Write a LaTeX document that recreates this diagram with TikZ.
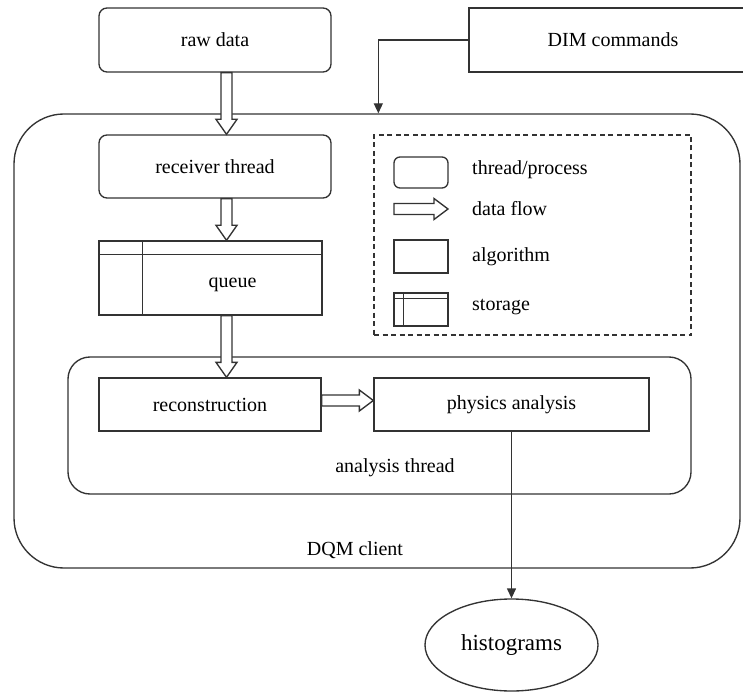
\documentclass[tikz,border=0pt]{standalone}
\usepackage{fontspec}
\setmainfont{Liberation Serif}
\usetikzlibrary{calc,shapes.geometric,arrows.meta}

% hollow (outlined) data-flow arrows
\newcommand\flowdown[2]{%
  \draw[flowarrow] let \p1=#1, \p2=#2 in
    (\x1-5.5pt,\y1) -- (\x1-5.5pt,\y2+15pt) -- (\x1-10.5pt,\y2+15pt) -- (\x1,\y2)
    -- (\x1+10.5pt,\y2+15pt) -- (\x1+5.5pt,\y2+15pt) -- (\x1+5.5pt,\y1) -- cycle;}
\newcommand\flowright[2]{%
  \draw[flowarrow] let \p1=#1, \p2=#2 in
    (\x1,\y1+5.5pt) -- (\x2-14pt,\y1+5.5pt) -- (\x2-14pt,\y1+10.5pt) -- (\x2,\y1)
    -- (\x2-14pt,\y1-10.5pt) -- (\x2-14pt,\y1-5.5pt) -- (\x1,\y1-5.5pt) -- cycle;}

\tikzset{
  ink/.style={draw=black!80, line width=1.35pt},
  threadbox/.style={ink, rounded corners=8pt, inner sep=0pt},
  algobox/.style={ink, inner sep=0pt},
  flowarrow/.style={ink, fill=white},
  sig/.style={draw=black!80, line width=1.35pt, -{Triangle[length=10pt,width=9pt]}},
  txt/.style={inner sep=0pt}
}

\begin{document}
\begin{tikzpicture}[x=1pt, y=-1pt, font=\fontsize{20pt}{23pt}\selectfont]
\clip (0,0) rectangle (743,692);
\fill[white] (0,0) rectangle (743,692);

% outer client process
\node[ink, rounded corners=50pt, minimum width=726pt, minimum height=454pt] (dqm) at (377,341) {};
\node[txt] (dqmlabel) at (355,550) {DQM client};

% external sources
\node[threadbox, minimum width=232pt, minimum height=64pt] (raw) at (215,40) {raw data};
\node[algobox, minimum width=288pt, minimum height=64pt] (dim) at (613,40) {DIM commands};

% receiver and queue
\node[threadbox, minimum width=232pt, minimum height=63pt] (recv) at (215,166.5) {receiver thread};
\node[algobox, minimum width=223pt, minimum height=74pt] (queue) at (210.5,278) {};
\draw[ink] ($(queue.north west)+(0,14)$) -- ($(queue.north east)+(0,14)$);
\draw[ink] ($(queue.north west)+(44,0)$) -- ($(queue.south west)+(44,0)$);
\node[txt] (queuetext) at (232.5,285) {queue};

% analysis thread
\node[ink, rounded corners=22pt, minimum width=623pt, minimum height=137pt] (ana) at (379.5,425.5) {};
\node[txt] (analabel) at (395,468) {analysis thread};
\node[algobox, minimum width=222pt, minimum height=53pt] (reco) at (210,404.5) {reconstruction};
\node[algobox, minimum width=275pt, minimum height=53pt] (phys) at (511.5,404.5) {physics analysis};

% output
\node[ink, ellipse, minimum width=173pt, minimum height=92pt, inner sep=0pt,
      font=\fontsize{23pt}{26pt}\selectfont] (hist) at (511.5,645) {histograms};

% legend
\node[ink, dashed, dash pattern=on 5pt off 3.5pt, minimum width=317pt, minimum height=200pt] (legend) at (532.5,235) {};
\node[ink, rounded corners=6pt, minimum width=54pt, minimum height=31pt] (lthread) at (421,172.5) {};
\coordinate (lflowa) at (394,209);
\coordinate (lflowb) at (448,209);
\flowright{(lflowa)}{(lflowb)}
\node[algobox, minimum width=54pt, minimum height=33pt] (lalgo) at (421,256.5) {};
\node[algobox, minimum width=54pt, minimum height=33pt] (lstore) at (421,309.5) {};
\draw[ink] ($(lstore.north west)+(0,6)$) -- ($(lstore.north east)+(0,6)$);
\draw[ink] ($(lstore.north west)+(10,0)$) -- ($(lstore.south west)+(10,0)$);
\node[txt, anchor=west] (tthread) at (472,170) {thread/process};
\node[txt, anchor=west] (tflow) at (472,209) {data flow};
\node[txt, anchor=west] (talgo) at (472,257) {algorithm};
\node[txt, anchor=west] (tstore) at (472,307) {storage};

% data flow
\flowdown{($(raw.south)+(11.5,0)$)}{(recv.north)}
\flowdown{($(recv.south)+(11.5,0)$)}{(queue.north)}
\flowdown{($(queue.south)+(16,0)$)}{(reco.north)}
\flowright{($(reco.east)+(0,-4)$)}{(phys.west)}

% control and output signals
\draw[sig] (dim.west) -| ($(dqm.north west)+(365,0)$);
\draw[sig] (phys.south) -- (hist.north);
\end{tikzpicture}
\end{document}
